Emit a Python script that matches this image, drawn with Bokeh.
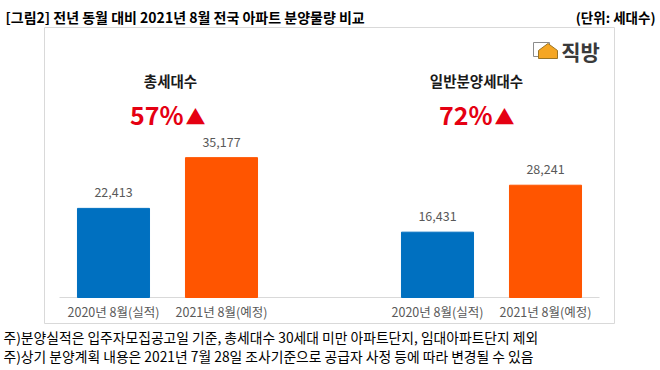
from bokeh.plotting import figure
from bokeh.models import FactorRange, Range1d, ColumnDataSource
from bokeh.core.properties import value
from bokeh.embed import file_html
from bokeh.resources import INLINE

# ---- data ----
groups = ["총세대수", "일반분양세대수"]
periods = ["2020년 8월(실적)", "2021년 8월(예정)"]
total_units = [22413, 35177]
general_units = [16431, 28241]
growth = ["57%", "72%"]
bar_colors = ["#0070c0", "#ff5500"]

title_text = "[그림2] 전년 동월 대비 2021년 8월 전국 아파트 분양물량 비교"
unit_text = "(단위: 세대수)"
notes = [
    "주)분양실적은 입주자모집공고일 기준, 총세대수 30세대 미만 아파트단지, 임대아파트단지 제외",
    "주)상기 분양계획 내용은 2021년 7월 28일 조사기준으로 공급자 사정 등에 따라 변경될 수 있음",
]
brand = "직방"

FONT = "Noto Sans CJK KR"
W, H = 658, 370

# layout in pixels (page coordinates, origin top-left)
PX_UNIT = 108.0          # pixels per category slot
X0_PX = 59.0             # page x of the category axis start
BASE_PX = 297.0          # page y of the bar baseline
Y_PER_PX = 42000 / 167.0 # value units per pixel

def X(px):
    return (px - X0_PX) / PX_UNIT

def Y(py):
    return (BASE_PX - py) * Y_PER_PX

factors = [(g, per) for g in groups for per in periods]
vals = total_units + general_units
n_slots = len(factors) + (len(groups) - 1) * 1.0
pad = (W / PX_UNIT - n_slots) / 2

src = ColumnDataSource(dict(
    x=factors,
    v=vals,
    lbl=[f"{v:,}" for v in vals],
    c=bar_colors * 2,
    per=[f[1] for f in factors],
))

p = figure(width=W, height=H, output_backend="svg", toolbar_location=None,
           x_range=FactorRange(*factors, group_padding=1.0,
                               range_padding=2 * pad / n_slots, range_padding_units="percent"),
           y_range=Range1d(Y(H), Y(0)),
           x_axis_location=None, y_axis_location=None,
           min_border=0)
p.xgrid.visible = False
p.ygrid.visible = False
p.outline_line_color = None

def txt(x, y, t, **kw):
    p.text(x=[x], y=[y], text=[t], text_font=value(FONT), text_baseline="middle", **kw)

# chart box
p.quad(left=[X(44)], right=[X(614)], top=[Y(27)], bottom=[Y(323)],
       fill_color=None, line_color="#d9d9d9", line_width=1)

# baseline (category axis line)
p.line(x=[0, n_slots], y=[0, 0], line_color="#d9d9d9", line_width=1)

# bars and value labels
p.vbar(x="x", top="v", width=0.667, color="c", source=src)
p.text(x="x", y="v", text="lbl", source=src, text_align="center", text_baseline="middle",
       y_offset=-16, text_font=value(FONT), text_font_size="12.5px", text_color="#595959")

# category labels
p.text(x="x", y=0, text="per", source=src, text_align="center", text_baseline="middle",
       y_offset=14, text_font=value(FONT), text_font_size="12.5px", text_color="#595959")

# group headings and growth
p.text(x=groups, y=[Y(80)] * 2, text=groups, x_offset=[3, -15], text_align="center",
       text_baseline="middle", text_font=value(FONT), text_font_size="14.5px",
       text_font_style="bold", text_color="#1a1a1a")
p.text(x=groups, y=[Y(113)] * 2, text=growth, x_offset=[16, 1],
       text_align="right", text_baseline="middle", text_font=value(FONT),
       text_font_size="25px", text_font_style="bold", text_color="#e50012")
p.text(x=groups, y=[Y(116)] * 2, text=["▲", "▲"], x_offset=[18, 3],
       text_align="left", text_baseline="middle", text_font=value(FONT),
       text_font_size="20px", text_color="#e50012")

# logo
p.quad(left=[X(533)], right=[X(549)], top=[Y(42)], bottom=[Y(56)],
       fill_color="white", line_color="#8c8c8c", line_width=1)
p.patch(x=[X(538), X(547.5), X(557), X(557), X(538)],
        y=[Y(50), Y(43), Y(50), Y(58), Y(58)],
        fill_color="#f5a623", line_color="#9a7424", line_width=1)
txt(X(580), Y(50), brand, text_align="center", text_font_size="21px",
    text_font_style="bold", text_color="#3a3a3a")

# title / unit
txt(X(5), Y(16), title_text, text_align="left", text_font_size="14px",
    text_font_style="bold", text_color="black")
txt(X(655), Y(16), unit_text, text_align="right", text_font_size="13.5px",
    text_font_style="bold", text_color="black")

# footnotes
for i, n in enumerate(notes):
    txt(X(3), Y(336 + 19.5 * i), n, text_align="left", text_font_size="13.8px",
        text_color="black")

open("out.html", "w").write(file_html(p, INLINE))
